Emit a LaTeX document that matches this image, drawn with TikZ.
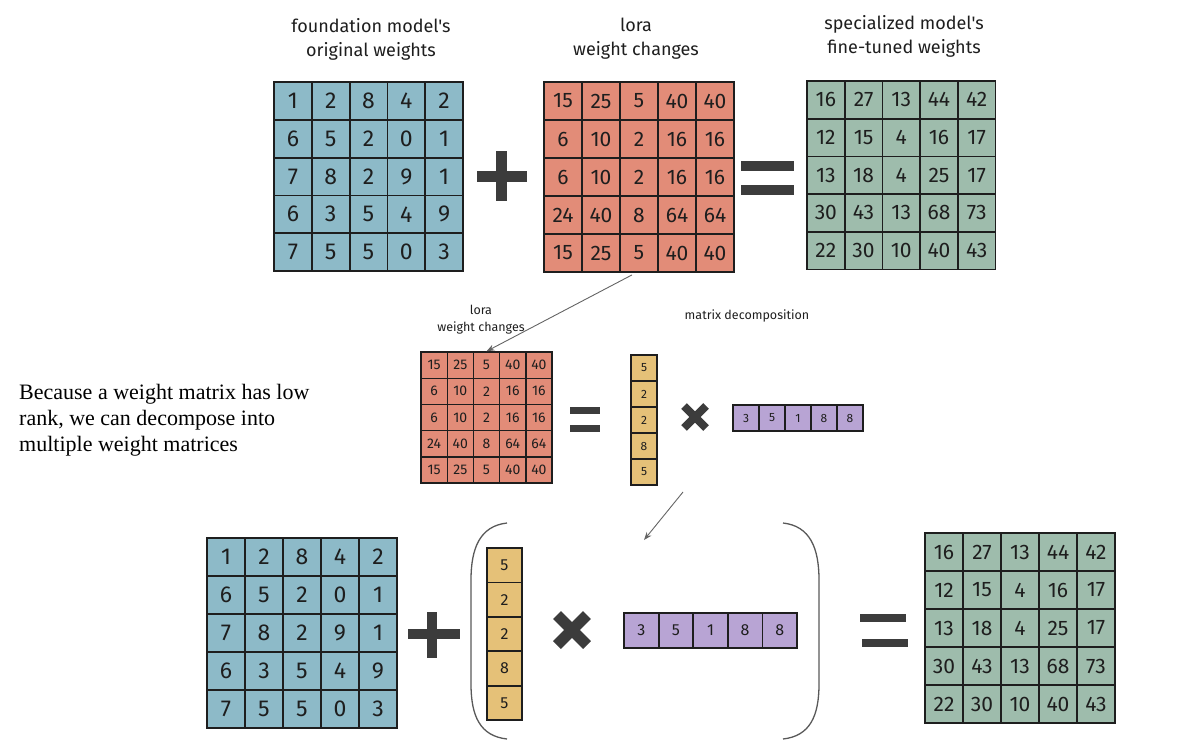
\documentclass[tikz,border=0pt]{standalone}
\usepackage{fontspec}
\usetikzlibrary{arrows.meta,calc}
\setmainfont{Liberation Serif}
\newfontfamily\handfont{Fira Sans}
\definecolor{ink}{RGB}{30,30,30}
\definecolor{opGrey}{RGB}{60,60,60}
\definecolor{arrowGrey}{RGB}{100,100,100}
\definecolor{baseBlue}{RGB}{141,186,200}
\definecolor{loraRed}{RGB}{226,140,120}
\definecolor{tunedGreen}{RGB}{158,188,172}
\definecolor{colYellow}{RGB}{229,193,120}
\definecolor{rowPurple}{RGB}{184,164,212}

\begin{document}
\begin{tikzpicture}[x=1pt, y=-1pt,
  cell/.style={draw=ink, line width=1.8pt, inner sep=0pt, text=ink},
  caption/.style={font=\handfont\fontsize{18}{24}\selectfont, text=ink, align=center},
  smallcap/.style={font=\handfont\fontsize{12.5}{17}\selectfont, text=ink, align=center},
  op/.style={opGrey, line width=#1},
  pointer/.style={-{Stealth[length=8pt,width=6pt]}, arrowGrey, line width=0.9pt},
  bracket/.style={black!65, line width=1.3pt}]

\useasboundingbox (0,0) rectangle (1194,744);

% ── Top row: W + dW = W' ──
\node[caption] (cap-base) at (371,39) {foundation model's\\original weights};
\node[caption] (cap-lora) at (636,39) {lora\\weight changes};
\node[caption] (cap-tuned) at (904,36) {specialized model's\\fine-tuned weights};

\begin{scope}[shift={(274,82)}]
  \foreach \row [count=\r] in {{1,2,8,4,2},{6,5,2,0,1},{7,8,2,9,1},{6,3,5,4,9},{7,5,5,0,3}}
    \foreach \v [count=\c] in \row
      \node[cell, fill=baseBlue, minimum size=37.8pt, font=\handfont\fontsize{23}{24}\selectfont]
        (top-base-\r-\c) at ({(\c-0.5)*37.8}, {(\r-0.5)*37.8}) {\v};
\end{scope}

\begin{scope}[shift={(544,82)}]
  \foreach \row [count=\r] in {{15,25,5,40,40},{6,10,2,16,16},{6,10,2,16,16},{24,40,8,64,64},{15,25,5,40,40}}
    \foreach \v [count=\c] in \row
      \node[cell, fill=loraRed, minimum size=38pt, font=\handfont\fontsize{21}{24}\selectfont]
        (top-lora-\r-\c) at ({(\c-0.5)*38}, {(\r-0.5)*38}) {\v};
\end{scope}

\begin{scope}[shift={(807,81)}]
  \foreach \row [count=\r] in {{16,27,13,44,42},{12,15,4,16,17},{13,18,4,25,17},{30,43,13,68,73},{22,30,10,40,43}}
    \foreach \v [count=\c] in \row
      \node[cell, fill=tunedGreen, minimum size=37.7pt, font=\handfont\fontsize{21}{24}\selectfont]
        (top-tuned-\r-\c) at ({(\c-0.5)*37.7}, {(\r-0.5)*37.7}) {\v};
\end{scope}

\draw[op=11pt] (477,176) -- (527,176) (501,151) -- (501,201);
\draw[op=10pt] (741,166) -- (794,166) (741,190) -- (794,190);

% ═══════════════════════════════════════════
% MIDDLE: decomposition of the weight changes
% ═══════════════════════════════════════════
\node[font=\fontsize{22}{26}\selectfont, align=left, anchor=north west, inner sep=0pt]
  (note) at (19,384) {Because a weight matrix has low\\rank, we can decompose into\\multiple weight matrices};

\node[smallcap] (cap-mid) at (481,320) {lora\\weight changes};
\node[smallcap] (cap-decomp) at (747,316) {matrix decomposition};

\begin{scope}[shift={(421,352)}]
  \foreach \row [count=\r] in {{15,25,5,40,40},{6,10,2,16,16},{6,10,2,16,16},{24,40,8,64,64},{15,25,5,40,40}}
    \foreach \v [count=\c] in \row
      \node[cell, fill=loraRed, minimum size=26.2pt, line width=1.4pt, font=\handfont\fontsize{14}{16}\selectfont]
        (mid-lora-\r-\c) at ({(\c-0.5)*26.2}, {(\r-0.5)*26.2}) {\v};
\end{scope}

\begin{scope}[shift={(631,355)}]
  \foreach \v [count=\r] in {5,2,2,8,5}
    \node[cell, fill=colYellow, minimum size=26pt, line width=1.4pt, font=\handfont\fontsize{12}{14}\selectfont]
      (mid-colvec-\r) at (13, {(\r-0.5)*26}) {\v};
\end{scope}

\begin{scope}[shift={(733,405)}]
  \foreach \v [count=\c] in {3,5,1,8,8}
    \node[cell, fill=rowPurple, minimum size=26pt, line width=1.4pt, font=\handfont\fontsize{12}{14}\selectfont]
      (mid-rowvec-\c) at ({(\c-0.5)*26}, 13) {\v};
\end{scope}

\draw[op=7pt] (570,410) -- (600,410) (570,428) -- (600,428);
\draw[op=8pt] (684,406) -- (706,428) (684,428) -- (706,406);

\draw[pointer] ($(top-lora-5-3.south)+(-7,2)$) -- (mid-lora-1-3.north);

\coordinate (split-tail) at (683,492);
\coordinate (split-head) at (644,540);
\draw[pointer] (split-tail) -- (split-head);

% ═══════════════════════════════════════════
% BOTTOM: W + (B x A) = W'
% ═══════════════════════════════════════════
\begin{scope}[shift={(207,538)}]
  \foreach \row [count=\r] in {{1,2,8,4,2},{6,5,2,0,1},{7,8,2,9,1},{6,3,5,4,9},{7,5,5,0,3}}
    \foreach \v [count=\c] in \row
      \node[cell, fill=baseBlue, minimum size=38pt, font=\handfont\fontsize{23}{24}\selectfont]
        (bot-base-\r-\c) at ({(\c-0.5)*38}, {(\r-0.5)*38}) {\v};
\end{scope}

\draw[op=10pt] (408,634) -- (460,634) (432,612) -- (432,658);

\draw[bracket] (507,523) .. controls (480,526) and (471,548) .. (471,580) -- (471,684)
  .. controls (471,716) and (480,736) .. (507,739);
\draw[bracket] (783,523) .. controls (810,526) and (819,548) .. (819,580) -- (819,684)
  .. controls (819,716) and (810,736) .. (783,739);

\begin{scope}[shift={(487,548)}]
  \foreach \v [count=\r] in {5,2,2,8,5}
    \node[cell, fill=colYellow, minimum width=35pt, minimum height=34.4pt, font=\handfont\fontsize{16}{18}\selectfont]
      (bot-colvec-\r) at (17.5, {(\r-0.5)*34.4}) {\v};
\end{scope}

\draw[op=11pt] (557,615) -- (587,645) (557,645) -- (587,615);

\begin{scope}[shift={(624,613)}]
  \foreach \v [count=\c] in {3,5,1,8,8}
    \node[cell, fill=rowPurple, minimum width=34.6pt, minimum height=35pt, font=\handfont\fontsize{16}{18}\selectfont]
      (bot-rowvec-\c) at ({(\c-0.5)*34.6}, 17.5) {\v};
\end{scope}

\draw[op=8pt] (860,618) -- (906,618) (862,643) -- (908,643);

\begin{scope}[shift={(925,533)}]
  \foreach \row [count=\r] in {{16,27,13,44,42},{12,15,4,16,17},{13,18,4,25,17},{30,43,13,68,73},{22,30,10,40,43}}
    \foreach \v [count=\c] in \row
      \node[cell, fill=tunedGreen, minimum size=38pt, font=\handfont\fontsize{21}{24}\selectfont]
        (bot-tuned-\r-\c) at ({(\c-0.5)*38}, {(\r-0.5)*38}) {\v};
\end{scope}

\end{tikzpicture}
\end{document}
